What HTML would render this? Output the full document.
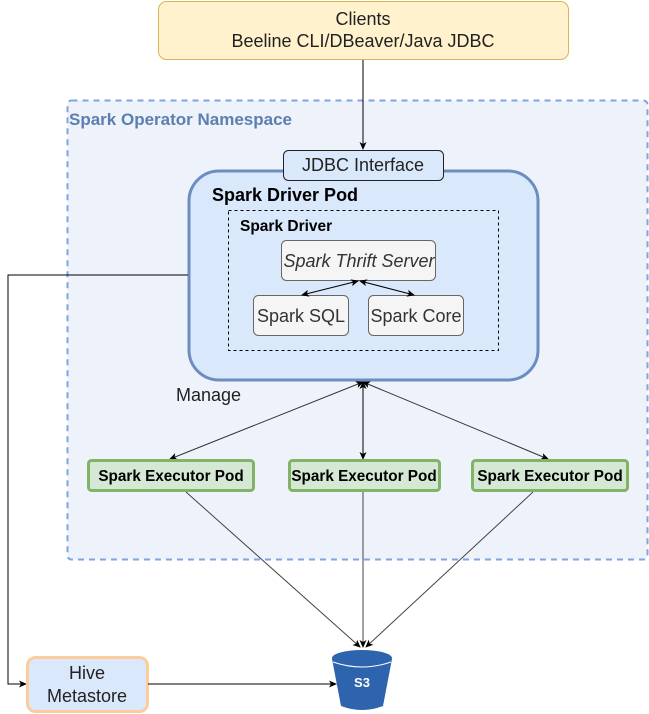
<!DOCTYPE html>
<html><head><meta charset="utf-8"><style>
html,body{margin:0;padding:0;background:#fff;}
svg{display:block;font-family:"Liberation Sans",sans-serif;}
</style></head><body>
<svg width="649" height="714" viewBox="0 0 649 714" xmlns="http://www.w3.org/2000/svg">
<defs>
<marker id="a" markerWidth="8" markerHeight="8" refX="7" refY="4" orient="auto-start-reverse" markerUnits="userSpaceOnUse"><path d="M0,0.5 L8,4 L0,7.5 L2,4 Z" fill="#000"/></marker>
</defs>
<rect x="67.5" y="100.5" width="580" height="459" rx="4" fill="#eef2fb" stroke="#7ea6e0" stroke-width="2" stroke-dasharray="6,5"/>
<text x="69" y="125" font-size="17" font-weight="bold" fill="#5b7fb0">Spark Operator Namespace</text>
<rect x="158.5" y="1.5" width="410" height="58" rx="8" fill="#fff2cc" stroke="#d6b656"/>
<text x="363" y="25" font-size="18" text-anchor="middle" fill="#222">Clients</text>
<text x="363" y="47" font-size="18" text-anchor="middle" fill="#222">Beeline CLI/DBeaver/Java JDBC</text>
<line x1="363" y1="60" x2="363" y2="149" stroke="#000" marker-end="url(#a)"/>
<rect x="189" y="171" width="349" height="209" rx="30" fill="#dae8fc" stroke="#6c8ebf" stroke-width="3"/>
<rect x="283.5" y="150.5" width="160" height="30" rx="5" fill="#dae8fc" stroke="#222"/>
<text x="363" y="171" font-size="18" text-anchor="middle" fill="#222">JDBC Interface</text>
<text x="212" y="201" font-size="18" font-weight="bold" fill="#000">Spark Driver Pod</text>
<rect x="228.5" y="210.5" width="270" height="140" fill="none" stroke="#000" stroke-dasharray="3,3"/>
<text x="240" y="231" font-size="15.5" font-weight="bold" fill="#000">Spark Driver</text>
<rect x="281.5" y="240.5" width="154" height="40" rx="5" fill="#f5f5f5" stroke="#666"/>
<text x="359" y="267" font-size="18" font-style="italic" text-anchor="middle" fill="#333">Spark Thrift Server</text>
<rect x="253.5" y="295.5" width="95" height="40" rx="5" fill="#f5f5f5" stroke="#666"/>
<text x="301" y="322" font-size="18" text-anchor="middle" fill="#333">Spark SQL</text>
<rect x="368.5" y="295.5" width="95" height="40" rx="5" fill="#f5f5f5" stroke="#666"/>
<text x="416" y="322" font-size="18" text-anchor="middle" fill="#333">Spark Core</text>
<line x1="358" y1="281" x2="302" y2="295" stroke="#000" marker-start="url(#a)" marker-end="url(#a)"/>
<line x1="360" y1="281" x2="414" y2="295" stroke="#000" marker-start="url(#a)" marker-end="url(#a)"/>
<text x="176" y="401" font-size="18" fill="#222">Manage</text>
<line x1="363" y1="382" x2="170" y2="459" stroke="#333" marker-start="url(#a)" marker-end="url(#a)"/>
<line x1="363" y1="382" x2="363" y2="459" stroke="#000" marker-start="url(#a)" marker-end="url(#a)"/>
<line x1="363" y1="382" x2="548" y2="459" stroke="#333" marker-start="url(#a)" marker-end="url(#a)"/>
<rect x="88.5" y="460.5" width="165" height="30" rx="3" fill="#d5e8d4" stroke="#82b366" stroke-width="3"/>
<text x="171" y="481" font-size="15.3" font-weight="bold" text-anchor="middle" fill="#000">Spark Executor Pod</text>
<rect x="289.5" y="460.5" width="150" height="30" rx="3" fill="#d5e8d4" stroke="#82b366" stroke-width="3"/>
<text x="364" y="481" font-size="15.3" font-weight="bold" text-anchor="middle" fill="#000">Spark Executor Pod</text>
<rect x="472.5" y="460.5" width="155" height="30" rx="3" fill="#d5e8d4" stroke="#82b366" stroke-width="3"/>
<text x="550" y="481" font-size="15.3" font-weight="bold" text-anchor="middle" fill="#000">Spark Executor Pod</text>
<line x1="186" y1="492" x2="360" y2="647" stroke="#444" marker-end="url(#a)"/>
<line x1="363" y1="492" x2="363" y2="647" stroke="#444" marker-end="url(#a)"/>
<line x1="533" y1="492" x2="366" y2="647" stroke="#444" marker-end="url(#a)"/>
<polyline points="188,275 8,275 8,684 26,684" fill="none" stroke="#000" marker-end="url(#a)"/>
<rect x="27.5" y="657.5" width="120" height="54" rx="8" fill="#dae8fc" stroke="#ffcc99" stroke-width="3"/>
<text x="87" y="679" font-size="18" text-anchor="middle" fill="#222">Hive</text>
<text x="87" y="702" font-size="18" text-anchor="middle" fill="#222">Metastore</text>
<line x1="148" y1="684" x2="336" y2="684" stroke="#000" marker-end="url(#a)"/>
<path d="M332,659 L341,706 Q362,714 383,706 L392,659 Z" fill="#2e64ad"/>
<ellipse cx="362" cy="658" rx="30" ry="8" fill="#2e64ad"/>
<path d="M333,662 Q362,672 391,662" fill="none" stroke="#fff" stroke-width="1"/>
<text x="362" y="687" font-size="13" font-weight="bold" text-anchor="middle" fill="#fff">S3</text>
</svg>
</body></html>
